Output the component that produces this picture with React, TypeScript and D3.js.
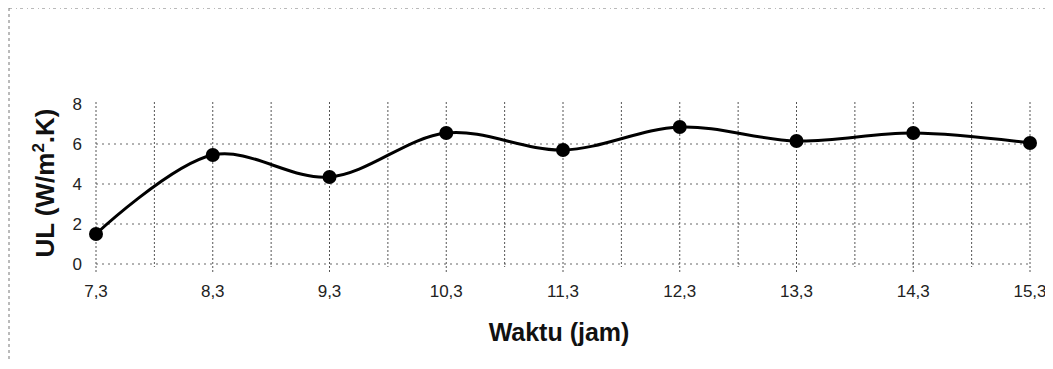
import React from 'react';
import * as d3 from 'd3';

// hours (jam) and UL values
const hours = [7.3, 8.3, 9.3, 10.3, 11.3, 12.3, 13.3, 14.3, 15.3];
const ulValues = [1.5, 5.45, 4.35, 6.55, 5.7, 6.85, 6.15, 6.55, 6.05];
const yTicks = [0, 2, 4, 6, 8];

const W = 1053;
const H = 369;
const FONT = '"Liberation Sans", Arial, sans-serif';

function App() {
  const x = d3.scaleLinear().domain([7.3, 15.3]).range([96, 1030]);
  const y = d3.scaleLinear().domain([0, 8]).range([264, 104]);

  // gridlines every half hour
  const vGrid = d3.range(7.3, 15.31, 0.5);

  const line = d3
    .line<number>()
    .x((_, i) => x(hours[i]))
    .y((d) => y(d))
    .curve(d3.curveCatmullRom.alpha(0.5));

  return (
    <div style={{ margin: -8 }}>
      <svg width={W} height={H} style={{ display: 'block', background: '#fff' }}>
        {/* scanned frame */}
        <line x1={9} y1={8} x2={W} y2={8} stroke="#777" strokeWidth={1} strokeDasharray="3,4,1,3" />
        <line x1={9} y1={8} x2={9} y2={H} stroke="#777" strokeWidth={1} strokeDasharray="3,3" />

        {/* horizontal grid */}
        {yTicks.filter((t) => t !== 8).map((t) => (
          <line
            key={'h' + t}
            x1={x(7.3)}
            x2={x(15.3)}
            y1={y(t)}
            y2={y(t)}
            stroke="#666"
            strokeWidth={1}
            strokeDasharray="2,4"
          />
        ))}

        {/* vertical grid */}
        {vGrid.map((v, i) => (
          <line
            key={'v' + i}
            x1={x(v)}
            x2={x(v)}
            y1={y(8) - 2}
            y2={i % 2 === 0 ? y(0) + 8 : y(0) + 3}
            stroke="#555"
            strokeWidth={1}
            strokeDasharray="2,2"
          />
        ))}

        {/* y tick labels */}
        {yTicks.map((t) => (
          <text
            key={'yt' + t}
            x={82}
            y={y(t) + 6}
            textAnchor="end"
            fontFamily={FONT}
            fontSize={17}
            fill="#222"
          >
            {t}
          </text>
        ))}

        {/* x tick labels */}
        {hours.map((h) => (
          <text
            key={'xt' + h}
            x={x(h)}
            y={297}
            textAnchor="middle"
            fontFamily={FONT}
            fontSize={17}
            fill="#222"
          >
            {String(h).replace('.', ',')}
          </text>
        ))}

        {/* axis titles */}
        <text
          x={559}
          y={341}
          textAnchor="middle"
          fontFamily={FONT}
          fontSize={25}
          fontWeight="bold"
          fill="#111"
        >
          Waktu (jam)
        </text>
        <text
          transform={`translate(54,${y(4) - 1}) rotate(-90)`}
          textAnchor="middle"
          fontFamily={FONT}
          fontSize={26}
          fontWeight="bold"
          fill="#111"
        >
          UL (W/m<tspan dy={-10} fontSize={17}>2</tspan>
          <tspan dy={10}>.K)</tspan>
        </text>

        {/* series */}
        <path d={line(ulValues) ?? ''} fill="none" stroke="#000" strokeWidth={3} />
        {ulValues.map((v, i) => (
          <circle key={'p' + i} cx={x(hours[i])} cy={y(v)} r={7} fill="#000" />
        ))}
      </svg>
    </div>
  );
}

export default App;
